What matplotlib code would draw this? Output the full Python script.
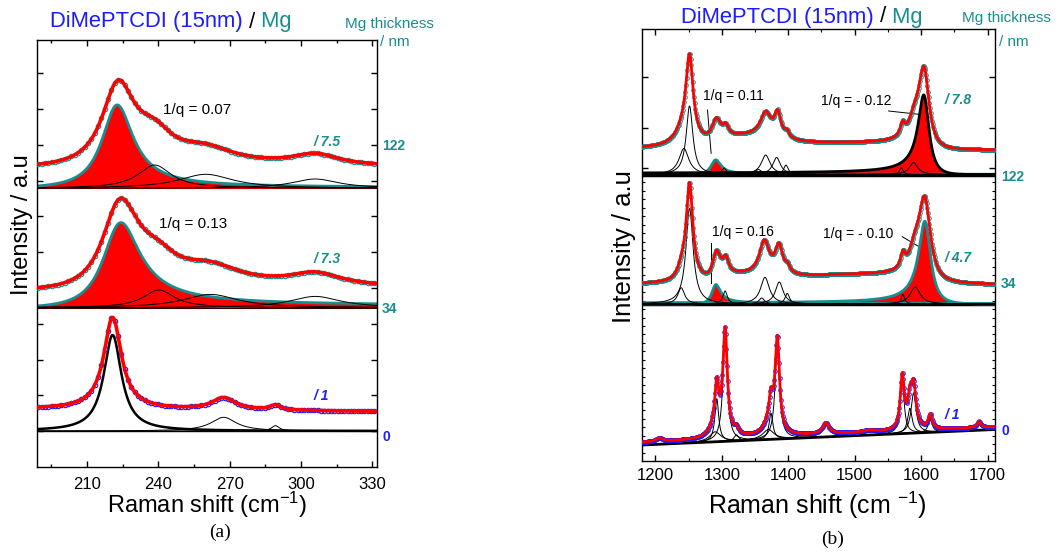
import numpy as np
import matplotlib.pyplot as plt
from matplotlib.ticker import NullFormatter

plt.rcParams['font.family'] = ['Liberation Sans', 'DejaVu Sans']
plt.rcParams['mathtext.default'] = 'regular'

TEAL = '#178e8e'
BLUE = '#1c1cff'
W, H = 1064, 556

# ---------------- panel (a): low-frequency region ----------------
# peaks: (centre cm-1, fwhm cm-1, height, 1/q)   heights in plot units above each baseline
a_xlim = (189, 332)
a_base = [278.7, 159.3, 36.0]          # 122 nm, 34 nm, 0 nm
a_labels_left = ['/ 7.5', '/ 7.3', '/ 1']
a_labels_right = ['122', '34', '0']
a_q_text = ['1/q = 0.07', '1/q = 0.13']

a_top_fit = [(222.6, 17, 80, 0.07), (238.5, 18, 22, 0), (260, 30, 14, 0), (306, 24, 11, 0)]
a_top_bg = 20
a_top_fano = (222.2, 16, 83, 0.07)
a_top_comps = [(238.5, 17, 23.3), (260, 28, 14), (306, 24, 9.3)]

a_mid_fit = [(223, 19, 85, 0.13), (240, 18, 15, 0), (262, 30, 15, 0), (306, 26, 12, 0)]
a_mid_bg = 17
a_mid_fano = (223.1, 19, 83.7, 0.13)
a_mid_comps = [(240.3, 16, 17.7), (262, 28, 13.3), (306, 26, 11.3)]

a_bot_fit = [(220.8, 9, 92, 0), (267.5, 12, 12, 0), (289.3, 5, 5, 0)]
a_bot_bg = (22, 19.5)
a_bot_main = (220.8, 9, 96)
a_bot_comps = [(267.5, 13, 13.7), (289.3, 4, 5.3)]

# ---------------- panel (b): high-frequency region ----------------
b_xlim = (1180, 1711)
b_base = [286.5, 157.0]
b_bot_base = (16, 31.5)                # sloping baseline of the 0 nm spectrum
b_labels_left = ['/ 7.8', '/ 4.7', '/ 1']
b_labels_right = ['122', '34', '0']

b_top_fit = [(1251.5, 13, 81, 0), (1243, 30, 14, 0), (1291, 16, 20, 0.11), (1306, 10, 9, 0),
             (1366, 20, 24, 0), (1384, 12, 24, 0), (1398, 8, 6, 0), (1572, 8, 12, 0),
             (1589, 16, 12, 0), (1605, 20, 78, -0.12), (1340, 120, 10, 0), (1500, 250, 4, 0)]
b_top_bg = 23
b_top_fano_l = (1290, 18, 14.5, 0.11)
b_top_fano_r = (1605, 20, 78.5, -0.12)
b_top_comps = [(1251.5, 12, 68.5), (1243, 18, 26), (1303.5, 8, 6.5), (1355, 12, 5),
               (1366, 16, 19.5), (1382.5, 14, 17), (1396.5, 8, 9.5), (1570, 6, 7), (1588.5, 15, 12)]

b_mid_fit = [(1251.5, 12, 97, 0), (1240, 14, 10, 0), (1291, 14, 25, 0.16), (1306, 10, 14, 0),
             (1364, 18, 33, 0), (1386, 14, 28, 0), (1399, 8, 6, 0), (1572.5, 8, 14, 0),
             (1590, 16, 14, 0), (1606, 22, 81, -0.10), (1340, 120, 5, 0), (1500, 250, 8, 0)]
b_mid_bg = 17
b_mid_fano_l = (1290, 16, 19, 0.16)
b_mid_fano_r = (1606.5, 22, 82, -0.10)
b_mid_comps = [(1251.5, 13, 95.7), (1239, 12, 16.3), (1305, 8, 13), (1360, 10, 6),
               (1365, 16, 26.7), (1386.5, 14, 22), (1398.5, 8, 10.7), (1572.5, 6, 9.7), (1591, 18, 17)]

b_bot_comps = [(1290, 20, 10), (1292.5, 7, 43), (1305, 8, 105), (1322, 8, 6), (1370, 20, 10),
               (1374, 7, 26), (1383.5, 8, 94), (1571.5, 7, 53), (1583, 8, 25), (1588.5, 9, 40),
               (1613.5, 7, 14)]
b_bot_extra = [(1206, 12, 3.3), (1456.5, 12, 11), (1522, 20, 2), (1687, 7, 6)]
b_bot_offset = 2.5


def bwf(x, c, fwhm, h, iq=0.0):
    d = (x - c) / (fwhm / 2.0)
    return h * (1 + d * iq) ** 2 / (1 + d ** 2)


def total(x, peaks):
    return sum(bwf(x, *p) for p in peaks)


def draw_fano(ax, x, base, p, edge):
    y = base + bwf(x, *p)
    ax.fill_between(x, base, y, color='red', lw=0, zorder=2)
    ax.plot(x, y, color=edge, lw=2.0, zorder=2.5)


fig = plt.figure(figsize=(W / 100, H / 100), dpi=100)

# ---------- (a) ----------
ax = fig.add_axes([37 / W, 1 - 467 / H, 340 / W, 427 / H])
x = np.linspace(*a_xlim, 1500)
xp = np.arange(189.5, 332, 1.4)

b0, b1, b2 = a_base
ax.plot(xp, b0 + a_top_bg + total(xp, a_top_fit), 'o', ms=3.2, mfc='none', mec=TEAL, mew=0.8, zorder=3)
ax.plot(x, b0 + a_top_bg + total(x, a_top_fit), color='red', lw=2.6, zorder=4)
ax.axhline(b0, color='k', lw=1.5, zorder=1)
draw_fano(ax, x, b0, a_top_fano, TEAL)
for p in a_top_comps:
    ax.plot(x, b0 + bwf(x, *p), color='k', lw=0.7, zorder=2.6)

ax.plot(xp, b1 + a_mid_bg + total(xp, a_mid_fit), 'o', ms=3.2, mfc='none', mec=TEAL, mew=0.8, zorder=3)
ax.plot(x, b1 + a_mid_bg + total(x, a_mid_fit), color='red', lw=2.6, zorder=4)
ax.axhline(b1, color='k', lw=1.5, zorder=1)
draw_fano(ax, x, b1, a_mid_fano, TEAL)
for p in a_mid_comps:
    ax.plot(x, b1 + bwf(x, *p), color='k', lw=0.7, zorder=2.6)

bg = a_bot_bg[0] + (a_bot_bg[1] - a_bot_bg[0]) * (x - a_xlim[0]) / (a_xlim[1] - a_xlim[0])
bgp = a_bot_bg[0] + (a_bot_bg[1] - a_bot_bg[0]) * (xp - a_xlim[0]) / (a_xlim[1] - a_xlim[0])
ax.plot(xp, b2 + bgp + total(xp, a_bot_fit), 'o', ms=3.2, mfc='none', mec=BLUE, mew=0.8, zorder=3)
ax.plot(x, b2 + bg + total(x, a_bot_fit), color='red', lw=2.6, zorder=4)
ax.axhline(b2, color='k', lw=1.0, zorder=1)
ax.plot(x, b2 + bwf(x, *a_bot_main), color='k', lw=1.8, zorder=2.6)
for p in a_bot_comps:
    ax.plot(x, b2 + bwf(x, *p), color='k', lw=0.7, zorder=2.6)

ax.set_xlim(*a_xlim)
ax.set_ylim(0, 427)
ax.set_xticks(np.arange(210, 331, 30))
ax.set_xticks(np.arange(195, 332, 30), minor=True)
ax.set_yticks(np.arange(1, 12) * 35.8)
ax.yaxis.set_major_formatter(NullFormatter())
ax.tick_params(direction='in', top=True, right=True, length=4.5, width=1, labelsize=12, pad=7)
ax.tick_params(which='minor', direction='in', top=True, right=True, length=2.5, width=1)
for s in ax.spines.values():
    s.set_linewidth(1.0)

ax.text(241.9, 357, a_q_text[0], fontsize=11, va='center')
ax.text(240.2, 243, a_q_text[1], fontsize=11, va='center')
for yy, t, c in zip([325.3, 207.7, 71.3], a_labels_left, [TEAL, TEAL, BLUE]):
    ax.text(305.2, yy, t, color=c, fontsize=10, fontweight='bold', style='italic', va='center')
yt = ax.get_yaxis_transform()
for yy, t, c in zip([321, 157.7, 30.3], a_labels_right, [TEAL, TEAL, BLUE]):
    ax.text(1.015, yy, t, color=c, fontsize=10, fontweight='bold', va='center', transform=yt)

# ---------- (b) ----------
bx = fig.add_axes([642 / W, 1 - 461 / H, 353 / W, 432 / H])
x = np.linspace(*b_xlim, 3000)
xp = np.arange(1180, 1711, 1.0)

c0, c1 = b_base
bx.plot(xp, c0 + b_top_bg + total(xp, b_top_fit), 'o', ms=2.6, mfc='none', mec=TEAL, mew=0.7, zorder=3)
bx.plot(x, c0 + b_top_bg + total(x, b_top_fit), color='red', lw=2.0, zorder=4)
draw_fano(bx, x, c0, b_top_fano_l, TEAL)
draw_fano(bx, x, c0, b_top_fano_r, 'k')
for p in b_top_comps:
    bx.plot(x, c0 + bwf(x, *p), color='k', lw=0.7, zorder=2.6)
bx.axhline(c0, color='k', lw=2.5, zorder=2.7)

bx.plot(xp, c1 + b_mid_bg + total(xp, b_mid_fit), 'o', ms=2.6, mfc='none', mec=TEAL, mew=0.7, zorder=3)
bx.plot(x, c1 + b_mid_bg + total(x, b_mid_fit), color='red', lw=2.0, zorder=4)
bx.axhline(c1, color='k', lw=2.5, zorder=1)
draw_fano(bx, x, c1, b_mid_fano_l, TEAL)
draw_fano(bx, x, c1, b_mid_fano_r, TEAL)
for p in b_mid_comps:
    bx.plot(x, c1 + bwf(x, *p), color='k', lw=0.7, zorder=2.6)

slope = (b_bot_base[1] - b_bot_base[0]) / (b_xlim[1] - b_xlim[0])
base = b_bot_base[0] + slope * (x - b_xlim[0])
basep = b_bot_base[0] + slope * (xp - b_xlim[0])
fitp = basep + b_bot_offset + total(xp, b_bot_comps) + total(xp, b_bot_extra)
bx.plot(xp, fitp, 'o', ms=2.6, mfc='none', mec=BLUE, mew=0.7, zorder=3)
bx.plot(x, base + b_bot_offset + total(x, b_bot_comps) + total(x, b_bot_extra),
        color='red', lw=2.0, zorder=4)
for p in b_bot_comps:
    bx.plot(x, base + bwf(x, *p), color='k', lw=0.7, zorder=2.6)
bx.plot(b_xlim, b_bot_base, color='k', lw=2.0, zorder=2.7)

bx.set_xlim(*b_xlim)
bx.set_ylim(0, 432)
bx.set_xticks(np.arange(1200, 1701, 100))
bx.set_xticks(np.arange(1250, 1701, 100), minor=True)
bx.set_yticks([293, 333, 384])
bx.set_yticks(np.arange(1, 34) * 8.44, minor=True)
bx.yaxis.set_major_formatter(NullFormatter())
bx.tick_params(direction='in', top=True, right=True, length=4.5, width=1, labelsize=12, pad=5)
bx.tick_params(which='minor', direction='in', top=True, right=True, length=2.5, width=0.8)
for s in bx.spines.values():
    s.set_linewidth(1.0)

bx.text(1271.5, 365, '1/q = 0.11', fontsize=10, va='center')
bx.plot([1278.5, 1284], [351, 307.7], color='k', lw=0.7)
bx.text(1450, 360, '1/q = - 0.12', fontsize=10, va='center')
bx.plot([1551, 1596], [350, 346.7], color='k', lw=0.7)
bx.text(1285, 229.3, '1/q = 0.16', fontsize=10, va='center')
bx.plot([1283.5, 1283.5], [217.7, 177.7], color='k', lw=0.7)
bx.text(1452, 227, '1/q = - 0.10', fontsize=10, va='center')
bx.plot([1571.5, 1595], [224.3, 215], color='k', lw=0.7)

for yy, t, c in zip([361, 203, 46], b_labels_left, [TEAL, TEAL, BLUE]):
    bx.text(1635, yy, t, color=c, fontsize=10, fontweight='bold', style='italic', va='center')
yt = bx.get_yaxis_transform()
for yy, t, c in zip([284, 177, 30.3], b_labels_right, [TEAL, TEAL, BLUE]):
    bx.text(1.017, yy, t, color=c, fontsize=10, fontweight='bold', va='center', transform=yt)

# ---------- figure texts ----------
renderer = fig.canvas.get_renderer()


def color_title(px, py, parts, size):
    fx = px / W
    for s, c in parts:
        t = fig.text(fx, 1 - py / H, s, color=c, fontsize=size, va='center')
        fx += t.get_window_extent(renderer=renderer).width / W


title_parts = [('DiMePTCDI (15nm)', BLUE), (' /', 'k'), (' Mg', TEAL)]
color_title(50, 22, title_parts, 15.8)
color_title(681, 17, title_parts, 15.8)

fig.text(345 / W, 1 - 24 / H, 'Mg thickness', color=TEAL, fontsize=11, va='center')
fig.text(380 / W, 1 - 42 / H, '/ nm', color=TEAL, fontsize=11, va='center')
fig.text(962 / W, 1 - 18 / H, 'Mg thickness', color=TEAL, fontsize=11, va='center')
fig.text(999 / W, 1 - 42 / H, '/ nm', color=TEAL, fontsize=11, va='center')

fig.text(22 / W, 1 - 225 / H, 'Intensity / a.u', fontsize=17, rotation=90, ha='center', va='center')
fig.text(624 / W, 1 - 247 / H, 'Intensity / a.u', fontsize=18.5, rotation=90, ha='center', va='center')
fig.text(207 / W, 1 - 505 / H, 'Raman shift (cm$^{-1}$)', fontsize=17, ha='center', va='center')
fig.text(817 / W, 1 - 505 / H, 'Raman shift (cm $^{-1}$)', fontsize=18, ha='center', va='center')

fig.text(220 / W, 1 - 532 / H, '(a)', fontsize=14, family='Liberation Serif', ha='center', va='center')
fig.text(833 / W, 1 - 539 / H, '(b)', fontsize=14, family='Liberation Serif', ha='center', va='center')

fig.savefig('out.png', dpi=100)
